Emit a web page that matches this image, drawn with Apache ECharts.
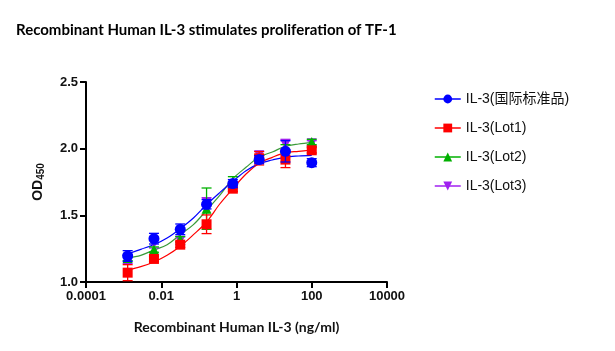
<!DOCTYPE html>
<html lang="en">

<head>
  <meta charset="UTF-8">
  <title>Recombinant Human IL-3 stimulates proliferation of TF-1</title>
  <style>
    body { margin: 0; background: #fff; }
    #root { width: 615px; height: 351px; }
  </style>
</head>

<body>
  <div id="root"></div>
</body>
<script src="https://cdn.jsdelivr.net/npm/echarts@6/dist/echarts.min.js"></script>
<script>
  // concentrations (ng/ml), 5-fold dilution
  const conc = [0.00128, 0.0064, 0.032, 0.16, 0.8, 4, 20, 100]
  const stdOD = [1.195, 1.325, 1.395, 1.583, 1.738, 1.918, 1.98, 1.895]
  const stdErr = [0.04, 0.04, 0.04, 0.035, 0.03, 0.03, 0.08, 0.03]
  const lot1OD = [1.07, 1.173, 1.28, 1.433, 1.70, 1.928, 1.918, 1.988]
  const lot1Err = [0.06, 0.02, 0.02, 0.07, 0.02, 0.05, 0.06, 0.02]
  const lot2OD = [1.18, 1.243, 1.32, 1.55, 1.75, 1.93, 2.0, 2.05]
  const lot2Err = [0.02, 0.02, 0.02, 0.155, 0.04, 0.02, 0.03, 0.02]
  const lot3OD = [1.17, 1.285, 1.31, 1.60, 1.72, 1.95, 2.03, 2.04]
  const lot3Err = [0.03, 0.03, 0.03, 0.03, 0.02, 0.03, 0.04, 0.02]

  // fitted curves
  const fitConc = [0.00128, 0.00286, 0.0064, 0.0143, 0.032, 0.0716, 0.16, 0.358, 0.8, 1.79, 4, 8.94, 20, 44.7, 100]
  const stdFit = [1.21, 1.245, 1.28, 1.33, 1.40, 1.48, 1.58, 1.67, 1.755, 1.835, 1.888, 1.915, 1.937, 1.945, 1.95]
  const lot1Fit = [1.09, 1.115, 1.15, 1.20, 1.268, 1.355, 1.45, 1.585, 1.70, 1.81, 1.89, 1.935, 1.97, 1.98, 1.99]
  const lot2Fit = [1.18, 1.20, 1.24, 1.28, 1.355, 1.43, 1.538, 1.65, 1.775, 1.86, 1.937, 1.975, 2.018, 2.035, 2.045]

  const xTickLabels = ['0.0001', '0.01', '1', '100', '10000']
  const names = ['IL-3(国际标准品)', 'IL-3(Lot1)', 'IL-3(Lot2)', 'IL-3(Lot3)']

  const zip = (xs, ys) => xs.map((x, i) => [x, ys[i]])
  const zip3 = (xs, ys, es) => xs.map((x, i) => [x, ys[i], es[i]])

  function errBars(color, z, data) {
    return {
      type: 'custom',
      silent: true,
      z: z,
      data: data,
      encode: { x: 0, y: 1 },
      renderItem: function (params, api) {
        const x = api.value(0), y = api.value(1), e = api.value(2)
        const top = api.coord([x, y + e])
        const bot = api.coord([x, y - e])
        const w = 5
        const style = { stroke: color, lineWidth: 1.3 }
        return {
          type: 'group',
          children: [
            { type: 'line', shape: { x1: top[0], y1: top[1], x2: bot[0], y2: bot[1] }, style: style },
            { type: 'line', shape: { x1: top[0] - w, y1: top[1], x2: top[0] + w, y2: top[1] }, style: style },
            { type: 'line', shape: { x1: bot[0] - w, y1: bot[1], x2: bot[0] + w, y2: bot[1] }, style: style }
          ]
        }
      }
    }
  }

  function points(name, color, symbol, rotate, z, data) {
    return {
      name: name,
      type: 'line',
      z: z,
      data: data,
      symbol: symbol,
      symbolSize: symbol === 'circle' ? 11 : 10,
      symbolRotate: rotate,
      itemStyle: { color: color },
      lineStyle: { color: color, opacity: 0, width: 0 },
      showAllSymbol: true
    }
  }

  function curve(color, z, data) {
    return {
      name: 'fit',
      type: 'line',
      z: z,
      data: data,
      smooth: 0.35,
      showSymbol: false,
      silent: true,
      lineStyle: { color: color, width: 1.2 }
    }
  }

  const blue = '#0000ff', red = '#ff0000', green = '#00b000', purple = '#a020f0'

  let myChart = echarts.init(document.getElementById('root'))

  let option = {
    animation: false,
    textStyle: { fontFamily: 'Liberation Sans' },
    title: {
      text: 'Recombinant Human IL-3 stimulates proliferation of TF-1',
      left: 11,
      top: 18,
      textStyle: { fontFamily: 'Lato', fontWeight: 'bold', fontSize: 15, color: '#000' }
    },
    legend: {
      orient: 'vertical',
      left: 429,
      top: 87,
      itemWidth: 26,
      itemHeight: 11,
      itemGap: 15,
      data: names,
      lineStyle: { opacity: 1, width: 1.5 },
      textStyle: { fontSize: 14, color: '#111', fontFamily: 'Liberation Sans, Noto Sans CJK SC' }
    },
    grid: { left: 86, right: 228, top: 82, bottom: 69 },
    xAxis: {
      type: 'log',
      logBase: 100,
      min: 0.0001,
      max: 10000,
      name: 'Recombinant Human IL-3 (ng/ml)',
      nameLocation: 'middle',
      nameGap: 38,
      nameTextStyle: { fontFamily: 'Lato', fontWeight: 'bold', fontSize: 14, color: '#111' },
      axisLine: { lineStyle: { color: '#000', width: 2 } },
      axisTick: { length: 6, lineStyle: { color: '#000', width: 2 } },
      axisLabel: {
        fontWeight: 'bold', fontSize: 13, color: '#111', margin: 8,
        formatter: v => xTickLabels[Math.round(Math.log10(v) / 2) + 2]
      },
      splitLine: { show: false }
    },
    yAxis: {
      type: 'value',
      min: 1,
      max: 2.5,
      interval: 0.5,
      name: 'OD{sub|450}',
      nameLocation: 'middle',
      nameGap: 40,
      nameRotate: 90,
      nameTextStyle: {
        fontWeight: 'bold', fontSize: 14, color: '#111',
        rich: { sub: { fontSize: 10, fontWeight: 'bold', verticalAlign: 'bottom', padding: [6, 0, 0, 0] } }
      },
      axisLine: { show: true, lineStyle: { color: '#000', width: 2 } },
      axisTick: { show: true, length: 6, lineStyle: { color: '#000', width: 2 } },
      axisLabel: { fontWeight: 'bold', fontSize: 13, color: '#111', formatter: v => v.toFixed(1) },
      splitLine: { show: false }
    },
    series: [
      curve('#3a9a3a', 2, zip(fitConc, lot2Fit)),
      curve(red, 2, zip(fitConc, lot1Fit)),
      curve(blue, 2, zip(fitConc, stdFit)),
      errBars(purple, 3, zip3(conc, lot3OD, lot3Err)),
      points(names[3], purple, 'triangle', 180, 4, zip(conc, lot3OD)),
      errBars(green, 5, zip3(conc, lot2OD, lot2Err)),
      points(names[2], green, 'triangle', 0, 6, zip(conc, lot2OD)),
      errBars(red, 7, zip3(conc, lot1OD, lot1Err)),
      points(names[1], red, 'rect', 0, 8, zip(conc, lot1OD)),
      errBars(blue, 9, zip3(conc, stdOD, stdErr)),
      points(names[0], blue, 'circle', 0, 10, zip(conc, stdOD))
    ]
  };

  myChart.setOption(option)
</script>

</html>
